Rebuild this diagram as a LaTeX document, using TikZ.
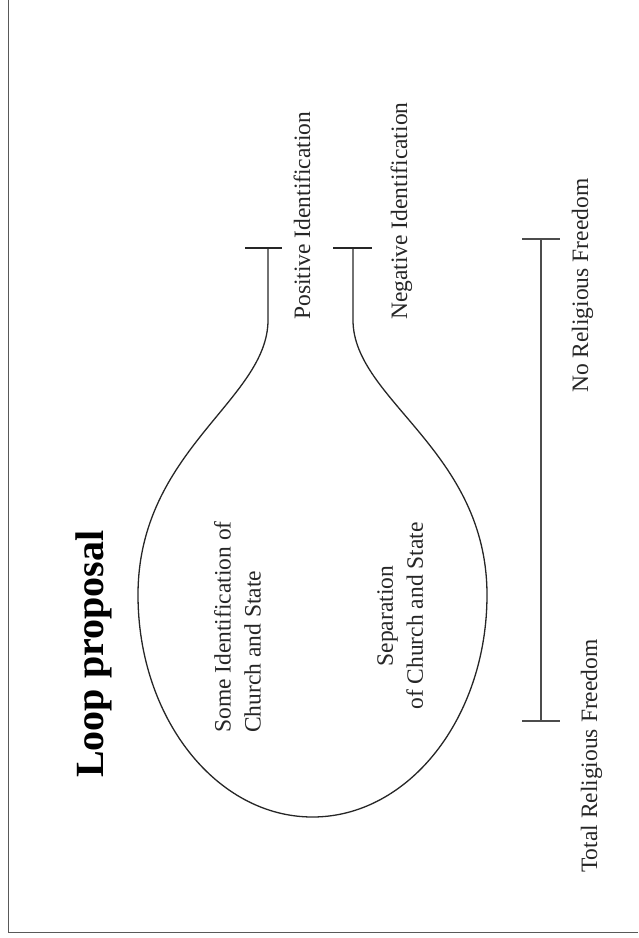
\documentclass[tikz,border=0pt]{standalone}
\usepackage{fontspec}
\setmainfont{Liberation Serif}
\begin{document}
\begin{tikzpicture}[x=1pt,y=1pt,
  lbl/.style={rotate=90,inner sep=0pt,font=\fontsize{23.5}{30}\selectfont,text=black!85},
  ttl/.style={rotate=90,inner sep=0pt,font=\fontsize{40}{48}\selectfont\bfseries},
  loopline/.style={line width=1.3pt,black!85},
  barline/.style={line width=1.5pt,black!70}]
\useasboundingbox (0,0) rectangle (638,-938);
% frame
\draw[black!65,line width=1pt] (8.5,0) -- (8.5,-932.5) -- (638,-932.5);
% coordinates
\coordinate (pt) at (268,-248);
\coordinate (nt) at (353,-248);
\coordinate (pl) at (245,-248);
\coordinate (pr) at (282,-248);
\coordinate (nl) at (333,-248);
\coordinate (nr) at (372,-248);
% loop
\draw[loopline] (nt) -- (353,-320)
  .. controls (353,-400) and (487,-450) .. (487,-595)
  arc[start angle=0,end angle=-180,x radius=174.5,y radius=222]
  .. controls (138,-450) and (268,-400) .. (268,-320) -- (pt);
\draw[loopline] (pl) -- (pr);
\draw[loopline] (nl) -- (nr);
% range bar
\coordinate (rt) at (541,-239);
\coordinate (rb) at (541,-721);
\draw[barline] (rt) -- (rb);
\draw[barline] (522,-239) -- (560,-239);
\draw[barline] (522,-721) -- (560,-721);
% texts
\node[ttl,anchor=base west] (title) at (103,-778) {Loop proposal};
\node[lbl,anchor=base west] (pos) at (310,-320) {Positive Identification};
\node[lbl,anchor=base west] (neg) at (407,-320) {Negative Identification};
\node[lbl,anchor=north west,align=left] (some) at (214,-733) {Some Identification of\\Church and State};
\node[lbl,anchor=north,align=center] (sep) at (377,-616) {Separation\\of Church and State};
\node[lbl,anchor=base west] (nrf) at (588,-393) {No Religious Freedom};
\node[lbl,anchor=base west] (trf) at (597,-873) {Total Religious Freedom};
\end{tikzpicture}
\end{document}
